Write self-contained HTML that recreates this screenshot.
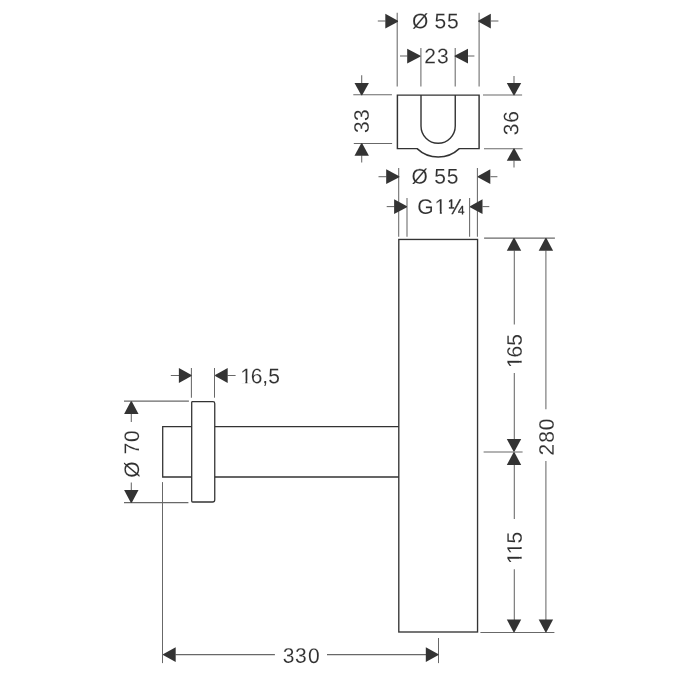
<!DOCTYPE html>
<html lang="en">
<head>
<meta charset="utf-8">
<title>Dimension drawing</title>
<style>
html,body{margin:0;padding:0;background:#fff;}
body{width:675px;height:675px;overflow:hidden;}
svg{display:block;filter:grayscale(1);}
.o{fill:none;stroke:#333333;stroke-width:1.28;stroke-linejoin:miter;stroke-linecap:butt;}
.dl{stroke:#686868;stroke-width:1.05;fill:none;}
.ar{fill:#333333;stroke:none;}
.w{fill:#fff;stroke:none;}
.t{font-family:"Liberation Sans",sans-serif;font-size:21.0px;fill:#303030;stroke:#fff;stroke-width:0.1px;stroke-linejoin:round;}
</style>
</head>
<body>
<svg width="675" height="675" viewBox="0 0 675 675">
<rect x="0" y="0" width="675" height="675" fill="#ffffff" stroke="none"/>
<g class="o">
<path stroke-width="1.45" d="M397.4,95.1 H479.1 V148.6 H459.3 A30.7,30.7 0 0 1 417.1,148.6 H397.4 Z"/>
<path stroke-width="1.4" d="M421.0,95.1 V126 A17.12,17.3 0 0 0 455.25,126 V95.1"/>
<rect stroke-width="1.35" x="398.8" y="239.45" width="78.75" height="392.55"/>
<path d="M214.8,426.6 H398.8 M214.8,477 H398.8"/>
<path d="M192.5,401.6 H213 Q214.75,401.6 214.75,403.4 V499.8 Q214.75,502.0 212.5,502.0 H192.6 Q191.7,502.0 191.7,501.1 V402.4 Q191.7,401.6 192.5,401.6 Z"/>
<path d="M191.7,426.6 H162.7 V477 H191.7"/>
</g>
<g class="dl">
<line class="d" x1="397.2" y1="12.8" x2="397.2" y2="86.5"/>
<line class="d" x1="479.1" y1="12.8" x2="479.1" y2="86.5"/>
<line class="d" x1="377.8" y1="21" x2="385.5" y2="21"/>
<line class="d" x1="491" y1="21" x2="498.4" y2="21"/>
<line class="d" x1="420.9" y1="48.1" x2="420.9" y2="86.4"/>
<line class="d" x1="455.2" y1="48.1" x2="455.2" y2="86.4"/>
<line class="d" x1="400" y1="56" x2="407.5" y2="56"/>
<line class="d" x1="467.5" y1="56" x2="474.4" y2="56"/>
<line class="d" x1="353.3" y1="94.7" x2="391.9" y2="94.7"/>
<line class="d" x1="353.8" y1="143.5" x2="392.1" y2="143.5"/>
<line class="d" x1="361.7" y1="75.3" x2="361.7" y2="83.5"/>
<line class="d" x1="361.7" y1="155.3" x2="361.7" y2="162.6"/>
<line class="d" x1="483.0" y1="95.0" x2="522.1" y2="95.0"/>
<line class="d" x1="484" y1="148.8" x2="522.6" y2="148.8"/>
<line class="d" x1="514" y1="75.9" x2="514" y2="83"/>
<line class="d" x1="514" y1="160.7" x2="514" y2="167.4"/>
<line class="d" x1="398.7" y1="168" x2="398.7" y2="236.7"/>
<line class="d" x1="477.4" y1="168" x2="477.4" y2="236.7"/>
<line class="d" x1="378.5" y1="176.7" x2="386.5" y2="176.7"/>
<line class="d" x1="490.5" y1="176.7" x2="497.4" y2="176.7"/>
<line class="d" x1="407" y1="198.1" x2="407" y2="236.7"/>
<line class="d" x1="469.6" y1="198.1" x2="469.6" y2="236.7"/>
<line class="d" x1="386.7" y1="206.6" x2="394.5" y2="206.6"/>
<line class="d" x1="482.5" y1="206.6" x2="489.3" y2="206.6"/>
<line class="d" x1="484.1" y1="238.1" x2="554.9" y2="238.1"/>
<line class="d" x1="483.6" y1="451.9" x2="522.6" y2="451.9"/>
<line class="d" x1="480.4" y1="632.55" x2="554.4" y2="632.55"/>
<line class="d" x1="514.3" y1="250.5" x2="514.3" y2="324.4"/>
<line class="d" x1="514.3" y1="373" x2="514.3" y2="439.5"/>
<line class="d" x1="514.3" y1="464.5" x2="514.3" y2="518.9"/>
<line class="d" x1="514.3" y1="569.3" x2="514.3" y2="620"/>
<line class="d" x1="545.9" y1="250.5" x2="545.9" y2="409.2"/>
<line class="d" x1="545.9" y1="461" x2="545.9" y2="620"/>
<line class="d" x1="124" y1="401.1" x2="188.9" y2="401.1"/>
<line class="d" x1="124" y1="502.6" x2="188.4" y2="502.6"/>
<line class="d" x1="131.3" y1="413.5" x2="131.3" y2="421.9"/>
<line class="d" x1="131.3" y1="482.6" x2="131.3" y2="490.3"/>
<line class="d" x1="191.4" y1="368" x2="191.4" y2="397.7"/>
<line class="d" x1="214.5" y1="368" x2="214.5" y2="397.7"/>
<line class="d" x1="170.8" y1="375.5" x2="179.5" y2="375.5"/>
<line class="d" x1="227.5" y1="375.5" x2="235.6" y2="375.5"/>
<line class="d" x1="162.5" y1="482.1" x2="162.5" y2="663.1"/>
<line class="d" x1="438.5" y1="638" x2="438.5" y2="663.1"/>
<line class="d" x1="175.5" y1="654.6" x2="274.9" y2="654.6"/>
<line class="d" x1="327" y1="654.6" x2="426" y2="654.6"/>
</g>
<g class="ar">
<polygon class="a" points="398.0,20.75 398.0,21.65 385.3,28.6 385.3,13.8"/>
<polygon class="a" points="478.1,20.65 478.1,21.55 490.8,28.5 490.8,13.7"/>
<polygon class="a" points="420.6,55.65 420.6,56.55 407.2,63.5 407.2,48.7"/>
<polygon class="a" points="454.6,55.65 454.6,56.55 468.0,63.5 468.0,48.7"/>
<polygon class="a" points="361.25,95.2 362.15,95.2 368.9,83.0 354.5,83.0"/>
<polygon class="a" points="361.25,143.2 362.15,143.2 368.9,155.7 354.5,155.7"/>
<polygon class="a" points="513.55,95.3 514.45,95.3 521.2,83.1 506.8,83.1"/>
<polygon class="a" points="513.55,148.5 514.45,148.5 521.2,160.8 506.8,160.8"/>
<polygon class="a" points="399.3,176.25 399.3,177.15 386.2,184.1 386.2,169.3"/>
<polygon class="a" points="477.8,176.25 477.8,177.15 490.3,184.1 490.3,169.3"/>
<polygon class="a" points="407.0,206.25 407.0,207.15 394.1,214.1 394.1,199.3"/>
<polygon class="a" points="470.0,206.25 470.0,207.15 482.5,214.1 482.5,199.3"/>
<polygon class="a" points="513.55,238.1 514.45,238.1 521.2,250.8 506.8,250.8"/>
<polygon class="a" points="513.55,451.6 514.45,451.6 521.2,438.9 506.8,438.9"/>
<polygon class="a" points="513.55,452.2 514.45,452.2 521.2,464.9 506.8,464.9"/>
<polygon class="a" points="513.55,632.3 514.45,632.3 521.2,619.6 506.8,619.6"/>
<polygon class="a" points="545.45,238.1 546.35,238.1 553.1,250.8 538.7,250.8"/>
<polygon class="a" points="545.45,632.3 546.35,632.3 553.1,619.6 538.7,619.6"/>
<polygon class="a" points="130.85,401.2 131.75,401.2 138.5,413.9 124.1,413.9"/>
<polygon class="a" points="130.85,502.8 131.75,502.8 138.5,490.1 124.1,490.1"/>
<polygon class="a" points="191.5,375.05 191.5,375.95 178.9,382.9 178.9,368.1"/>
<polygon class="a" points="215.1,375.05 215.1,375.95 227.7,382.9 227.7,368.1"/>
<polygon class="a" points="163.0,654.15 163.0,655.05 175.7,662.0 175.7,647.2"/>
<polygon class="a" points="438.5,654.15 438.5,655.05 425.8,662.0 425.8,647.2"/>
</g>
<g class="t">
<text transform="translate(420.25 28.17) rotate(0.03)" x="-8.18 8.2 14.28 26.83" y="0">Ø 55</text>
<text transform="translate(430.2 63.27) rotate(0.03)" x="-5.84 6.77" y="0">23</text>
<text transform="translate(368.82 127.35) rotate(-90.03)" x="-5.78 6.42" y="0">33</text>
<text transform="translate(518.27 129.5) rotate(-90.03)" x="-5.78 6.79" y="0">36</text>
<text transform="translate(419.55 183.57) rotate(0.03)" x="-8.18 8.2 14.63 27.28" y="0">Ø 55</text>
<text transform="translate(425.2 213.87) rotate(0.03)" x="-7.91 9.41 23.34" y="0">G1<tspan textLength="15.41" lengthAdjust="spacingAndGlyphs" stroke="#303030" stroke-width="0.4">¼</tspan></text>
<rect class="w" transform="translate(425.2 213.87) rotate(0.03)" x="9.83" y="-2.62" width="4.76" height="3.32"/>
<rect class="w" transform="translate(425.2 213.87) rotate(0.03)" x="16.61" y="-2.62" width="4.35" height="3.32"/>
<text transform="translate(521.67 361.8) rotate(-90.03)" x="-6.2 4.39 16.08" y="0">165</text>
<rect class="w" transform="translate(521.67 361.8) rotate(-90.03)" x="-5.78" y="-2.62" width="4.77" height="3.32"/>
<rect class="w" transform="translate(521.67 361.8) rotate(-90.03)" x="1.01" y="-2.62" width="4.34" height="3.32"/>
<text transform="translate(553.67 449.6) rotate(-90.03)" x="-5.84 6.86 19.46" y="0">280</text>
<text transform="translate(521.67 557.7) rotate(-90.03)" x="-6.2 3.41 14.23" y="0">115</text>
<rect class="w" transform="translate(521.67 557.7) rotate(-90.03)" x="-5.78" y="-2.62" width="4.77" height="3.32"/>
<rect class="w" transform="translate(521.67 557.7) rotate(-90.03)" x="1.01" y="-2.62" width="4.34" height="3.32"/>
<rect class="w" transform="translate(521.67 557.7) rotate(-90.03)" x="3.83" y="-2.62" width="4.76" height="3.32"/>
<rect class="w" transform="translate(521.67 557.7) rotate(-90.03)" x="10.61" y="-2.62" width="4.35" height="3.32"/>
<text transform="translate(139.07 469.5) rotate(-90.03)" x="-8.18 8.2 15.25 27.56" y="0">Ø 70</text>
<text transform="translate(246.4 383.17) rotate(0.03)" x="-6.2 4.34 15.88 21.88" y="0">16,5</text>
<rect class="w" transform="translate(246.4 383.17) rotate(0.03)" x="-5.78" y="-2.62" width="4.77" height="3.32"/>
<rect class="w" transform="translate(246.4 383.17) rotate(0.03)" x="1.01" y="-2.62" width="4.34" height="3.32"/>
<text transform="translate(288.45 662.87) rotate(0.03)" x="-5.78 6.67 19.51" y="0">330</text>
</g>
</svg>
</body>
</html>
